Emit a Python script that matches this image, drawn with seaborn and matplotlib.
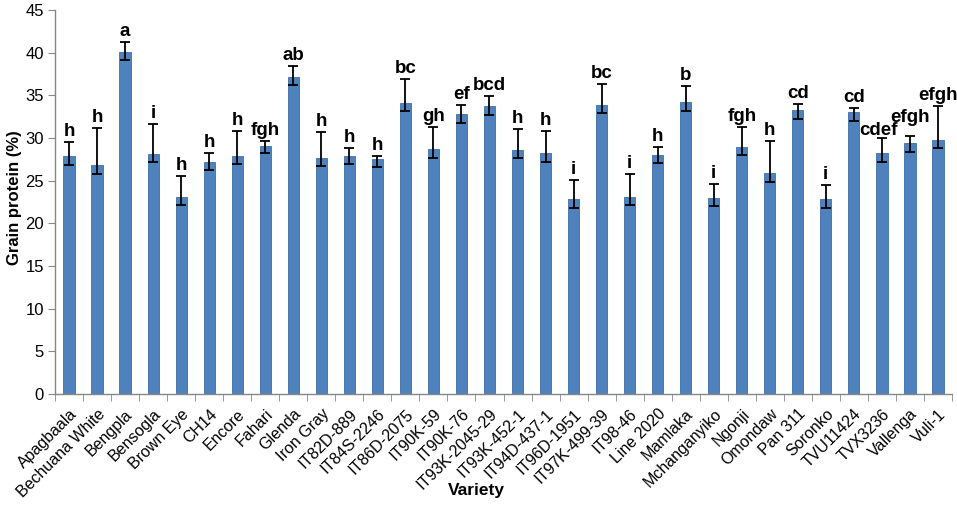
import pandas as pd
import seaborn as sns
import matplotlib.pyplot as plt

# Grain protein by cowpea variety
varieties = ['Apagbaala', 'Bechuana White', 'Bengpla', 'Bensogla', 'Brown Eye',
             'CH14', 'Encore', 'Fahari', 'Glenda', 'Iron Gray', 'IT82D-889',
             'IT84S-2246', 'IT86D-2075', 'IT90K-59', 'IT90K-76', 'IT93K-2045-29',
             'IT93K-452-1', 'IT94D-437-1', 'IT96D-1951', 'IT97K-499-39', 'IT98-46',
             'Line 2020', 'Mamlaka', 'Mchanganyiko', 'Ngonji', 'Omondaw',
             'Pan 311', 'Soronko', 'TVU11424', 'TVX3236', 'Vallenga', 'Vuli-1']

protein = [27.9, 26.8, 40.1, 28.1, 23.1, 27.2, 27.9, 29.1, 37.2, 27.7, 27.9,
           27.5, 34.1, 28.75, 32.8, 33.8, 28.55, 28.2, 22.8, 33.9, 23.05,
           28.05, 34.25, 23.0, 29.0, 25.95, 33.3, 22.8, 33.0, 28.2, 29.4, 29.75]

err_minus = [1.1, 1.0, 1.0, 0.95, 1.0, 0.9, 1.0, 0.9, 1.0, 1.0, 1.0,
             0.9, 0.9, 1.05, 1.05, 1.1, 0.95, 1.05, 1.0, 1.0, 0.95,
             1.0, 1.05, 1.0, 1.05, 1.05, 1.05, 1.0, 1.0, 1.0, 1.0, 0.95]

err_plus = [1.6, 4.4, 1.1, 3.5, 2.4, 1.1, 2.9, 0.5, 1.2, 3.0, 0.9,
            0.35, 2.8, 2.5, 1.1, 1.1, 2.5, 2.6, 2.3, 2.4, 2.75,
            0.85, 1.85, 1.65, 2.25, 3.65, 0.7, 1.7, 0.55, 1.8, 0.85, 4.05]

letters = ['h', 'h', 'a', 'i', 'h', 'h', 'h', 'fgh', 'ab', 'h', 'h',
           'h', 'bc', 'gh', 'ef', 'bcd', 'h', 'h', 'i', 'bc', 'i',
           'h', 'b', 'i', 'fgh', 'h', 'cd', 'i', 'cd', 'cdef', 'efgh', 'efgh']

df = pd.DataFrame({'Variety': varieties, 'Protein': protein})

sns.set_style('white')
plt.rcParams['font.family'] = ['Liberation Sans', 'DejaVu Sans']
plt.rcParams['text.color'] = 'black'
plt.rcParams['xtick.color'] = 'black'
plt.rcParams['ytick.color'] = 'black'

fig = plt.figure(figsize=(9.57, 5.08), dpi=100)
ax = fig.add_axes([55 / 957, 1 - 394 / 508, 897 / 957, 384 / 508])

sns.barplot(data=df, x='Variety', y='Protein', color='#4F81BD', saturation=1,
            width=0.4, errorbar=None, edgecolor='#3F6FA8', linewidth=0.6, ax=ax)

xpos = list(range(len(varieties)))
ax.errorbar(xpos, protein, yerr=[err_minus, err_plus], fmt='none',
            ecolor='black', elinewidth=1.3, capsize=3.5, capthick=1.3)

# small nudges where neighbouring letters would collide (as in the original)
nudge = {'cdef': (-0.12, -0.3)}
for x, v, up, lab in zip(xpos, protein, err_plus, letters):
    dx, dy = nudge.get(lab, (0, 0))
    if varieties[x] == 'Vallenga':
        dy = 0.9
    ax.text(x + dx, v + up + 0.7 + dy, lab, ha='center', va='baseline',
            fontsize=13.5, fontweight='bold', color='black')

ax.set_xlim(-0.5, len(varieties) - 0.5)
ax.set_ylim(0, 45)
ax.set_yticks(range(0, 46, 5))
ax.set_xlabel('')
ax.set_ylabel('')

# Excel-style ticks between categories
ax.set_xticks(xpos)
ax.set_xticklabels(varieties, rotation=45, ha='right', rotation_mode='anchor')
ax.set_xticks([i - 0.5 for i in range(len(varieties) + 1)], minor=True)
ax.tick_params(axis='x', which='major', length=0, pad=9, labelsize=11.5)
ax.tick_params(axis='x', which='minor', length=5, color='#868686', direction='out', bottom=True)
ax.tick_params(axis='y', length=5, color='#868686', direction='out', left=True,
               labelsize=12, pad=3)

for side in ['top', 'right']:
    ax.spines[side].set_visible(False)
for side in ['left', 'bottom']:
    ax.spines[side].set_color('#868686')
    ax.spines[side].set_linewidth(1)

fig.text(15 / 957, 1 - 198 / 508, 'Grain protein (%)', rotation=90,
         ha='center', va='center', fontsize=12, fontweight='bold')
fig.text(476 / 957, 1 - 490 / 508, 'Variety', ha='center', va='center',
         fontsize=12.5, fontweight='bold')

fig.savefig('out.png', dpi=100)
